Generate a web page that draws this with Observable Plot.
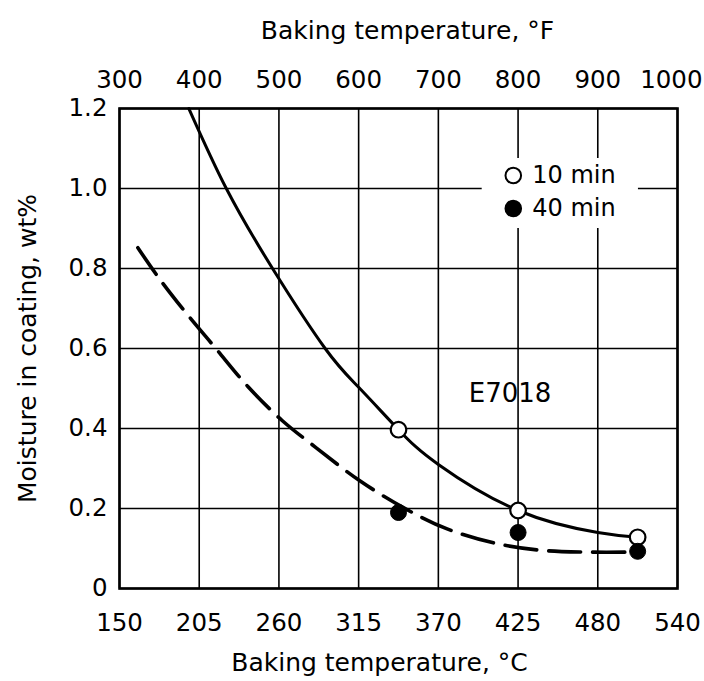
<!DOCTYPE html>
<html>
<head>
<meta charset="utf-8">
<script src="https://cdn.jsdelivr.net/npm/d3@7"></script>
<script src="https://cdn.jsdelivr.net/npm/@observablehq/plot@0.6"></script>
<style>
  html, body { margin: 0; padding: 0; background: white; }
</style>
</head>
<body>
<div id="chart"></div>
<script>
// Top axis ticks (°F) and matching bottom labels (°C)
const fTicks = [300, 400, 500, 600, 700, 800, 900, 1000];
const fTickLabels = ["300", "400", "500", "600", "700", "800", "900", "1000"];
const cLabels = ["150", "205", "260", "315", "370", "425", "480", "540"];
const yTicks = [0, 0.2, 0.4, 0.6, 0.8, 1.0, 1.2];
const yTickLabels = ["0", "0.2", "0.4", "0.6", "0.8", "1.0", "1.2"];

// 10 min curve (solid), x in °F
const curve10F = [387, 434, 492, 558, 600, 650, 700, 800, 900, 950];
const curve10M = [1.2, 1.0, 0.8, 0.6, 0.503, 0.397, 0.31, 0.195, 0.14, 0.128];

// 40 min curve (dashed)
const curve40F = [323, 348, 381, 420, 461, 504, 546, 601, 659, 711, 774, 832, 887, 945];
const curve40M = [0.852, 0.78, 0.695, 0.602, 0.505, 0.42, 0.353, 0.27, 0.199, 0.149, 0.112, 0.095, 0.091, 0.091];

// Measured points
const pts10F = [650, 800, 950];
const pts10M = [0.397, 0.195, 0.128];
const pts40F = [650, 800, 950];
const pts40M = [0.19, 0.14, 0.093];

const legendLabels = ["10 min", "40 min"];
const legendFill = ["white", "black"];
const annotation = ["E7018"];

const line10 = curve10F.map((f, i) => ({f, m: curve10M[i]}));
const line40 = curve40F.map((f, i) => ({f, m: curve40M[i]}));
const dots10 = pts10F.map((f, i) => ({f, m: pts10M[i]}));
const dots40 = pts40F.map((f, i) => ({f, m: pts40M[i]}));
const legend = legendLabels.map((label, i) => ({label, fill: legendFill[i], f: 794, m: 1.0325 - i * 0.0825}));

const lastF = fTicks[fTicks.length - 1];
const fLabel = (d) => fTickLabels[fTicks.indexOf(d)];

const chart = Plot.plot({
  width: 704,
  height: 681,
  marginLeft: 119,
  marginRight: 27,
  marginTop: 108,
  marginBottom: 93,
  style: {fontFamily: "'DejaVu Sans', sans-serif", fontSize: "24px", background: "white", color: "black"},
  x: {domain: [300, 1000]},
  y: {domain: [0, 1.2]},
  marks: [
    Plot.gridX(fTicks, {stroke: "black", strokeOpacity: 1, strokeWidth: 1.6}),
    Plot.gridY(yTicks, {stroke: "black", strokeOpacity: 1, strokeWidth: 1.6}),
    // legend background box
    Plot.rect([0], {x1: () => 755, x2: () => 951, y1: () => 0.90, y2: () => 1.075, fill: "white"}),
    Plot.frame({stroke: "black", strokeWidth: 2.6}),
    Plot.axisX(fTicks.slice(0, -1), {anchor: "top", tickSize: 0, tickPadding: 21, label: null, fontSize: 24.5, tickFormat: fLabel}),
    Plot.axisX([lastF], {anchor: "top", tickSize: 0, tickPadding: 21, label: null, fontSize: 24.5, tickFormat: fLabel, textAnchor: "end", dx: 25}),
    Plot.axisX(fTicks, {anchor: "bottom", tickSize: 0, tickPadding: 25, label: null, fontSize: 24.5,
      tickFormat: (d) => cLabels[fTicks.indexOf(d)]}),
    Plot.axisY(yTicks, {anchor: "left", tickSize: 0, tickPadding: 12, label: null, fontSize: 24.5,
      tickFormat: (d) => yTickLabels[yTicks.indexOf(d)]}),
    Plot.line(line10, {x: "f", y: "m", curve: "natural", stroke: "black", strokeWidth: 3}),
    Plot.line(line40, {x: "f", y: "m", curve: "catmull-rom", stroke: "black", strokeWidth: 3.6, strokeDasharray: "32,12"}),
    Plot.dot(dots10, {x: "f", y: "m", r: 7.8, fill: "white", stroke: "black", strokeWidth: 2.2}),
    Plot.dot(dots40, {x: "f", y: "m", r: 8, fill: "black", stroke: "black", strokeWidth: 1}),
    Plot.dot(legend, {x: "f", y: "m", r: 7.8, fill: "fill", stroke: "black", strokeWidth: 2}),
    Plot.text(legend, {x: "f", y: "m", text: "label", textAnchor: "start", dx: 19, fontSize: 24, fill: "black"}),
    Plot.text(annotation, {x: () => 790, y: () => 0.4875, text: (d) => d, fontSize: 26, fill: "black"}),
    Plot.text(["Baking temperature, °F"], {frameAnchor: "top", lineAnchor: "bottom", textAnchor: "middle", dx: 9, dy: -70, fontSize: 25, fill: "black"}),
    Plot.text(["Baking temperature, °C"], {frameAnchor: "bottom", lineAnchor: "bottom", textAnchor: "middle", dx: -19, dy: 82, fontSize: 25, fill: "black"}),
    Plot.text(["Moisture in coating, wt%"], {frameAnchor: "left", rotate: -90, textAnchor: "middle", dx: -91.5, fontSize: 25, fill: "black"})
  ]
});
document.getElementById("chart").appendChild(chart);
</script>
</body>
</html>
